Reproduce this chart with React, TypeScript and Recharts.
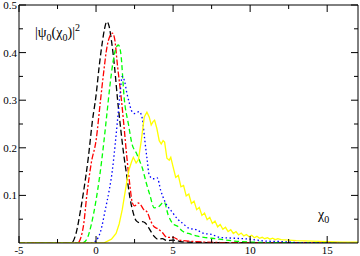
import React from "react";
import { LineChart, Line, XAxis, YAxis } from "recharts";

// x ticks (major every 5, minor every 2.5) and y ticks (major every 0.1)
const xTicks = [-5, -2.5, 0, 2.5, 5, 7.5, 10, 12.5, 15];
const yTicks = [0, 0.05, 0.1, 0.15, 0.2, 0.25, 0.3, 0.35, 0.4, 0.45, 0.5];

const blackX = [-5, -2, -1.6, -1.3, -1.0, -0.8, -0.5, -0.23, 0, 0.2, 0.4, 0.55, 0.7, 0.85, 1.0, 1.2, 1.4, 1.6, 1.8, 2.0, 2.2, 2.4, 2.6, 2.8, 3.0, 3.2, 3.4, 3.6, 3.8, 4.0, 4.3, 4.6, 5.0, 5.5, 6.0, 7.0, 17];
const blackY = [0, 0, 0, 0.02, 0.07, 0.11, 0.18, 0.258, 0.31, 0.37, 0.42, 0.45, 0.465, 0.455, 0.425, 0.37, 0.3, 0.24, 0.185, 0.14, 0.095, 0.065, 0.047, 0.043, 0.045, 0.042, 0.033, 0.022, 0.013, 0.008, 0.009, 0.005, 0.006, 0.003, 0.002, 0.001, 0];

const redX = [-5, -1.2, -1.0, -0.8, -0.6, -0.3, 0, 0.29, 0.5, 0.7, 0.9, 1.06, 1.2, 1.4, 1.65, 1.8, 2.0, 2.2, 2.35, 2.5, 2.74, 2.9, 3.1, 3.32, 3.5, 3.77, 4.0, 4.3, 4.6, 5.0, 5.4, 6.0, 7.0, 8.0, 17];
const redY = [0, 0, 0.01, 0.04, 0.1, 0.17, 0.215, 0.3, 0.36, 0.41, 0.435, 0.441, 0.43, 0.37, 0.3, 0.25, 0.18, 0.12, 0.085, 0.078, 0.084, 0.08, 0.07, 0.065, 0.05, 0.034, 0.03, 0.022, 0.012, 0.012, 0.006, 0.004, 0.002, 0.001, 0];

const greenX = [-5, -0.9, -0.6, -0.3, 0, 0.23, 0.5, 0.7, 0.9, 1.1, 1.3, 1.45, 1.6, 1.84, 2.1, 2.35, 2.6, 2.8, 3.0, 3.26, 3.5, 3.77, 4.0, 4.42, 4.68, 5.0, 5.3, 5.6, 6.0, 6.5, 7.0, 7.5, 8.0, 9.0, 10, 11, 17];
const greenY = [0, 0, 0.008, 0.04, 0.09, 0.139, 0.21, 0.27, 0.33, 0.38, 0.41, 0.416, 0.4, 0.3, 0.25, 0.206, 0.19, 0.175, 0.158, 0.126, 0.1, 0.074, 0.075, 0.086, 0.059, 0.04, 0.035, 0.025, 0.02, 0.015, 0.012, 0.01, 0.008, 0.004, 0.002, 0.001, 0];

const blueX = [-5, -0.3, 0, 0.3, 0.6, 0.85, 1.06, 1.25, 1.4, 1.55, 1.7, 1.85, 2.0, 2.16, 2.3, 2.5, 2.8, 3.0, 3.15, 3.32, 3.45, 3.7, 3.97, 4.2, 4.5, 4.94, 5.3, 5.6, 6.03, 6.5, 7.0, 7.5, 8.0, 9.0, 10, 11, 12, 13, 17];
const blueY = [0, 0, 0.005, 0.025, 0.07, 0.11, 0.153, 0.21, 0.26, 0.31, 0.35, 0.34, 0.315, 0.294, 0.278, 0.272, 0.276, 0.262, 0.22, 0.174, 0.143, 0.135, 0.137, 0.11, 0.085, 0.065, 0.05, 0.042, 0.031, 0.028, 0.02, 0.018, 0.012, 0.01, 0.008, 0.004, 0.003, 0.001, 0];

const yellowX = [-5, 0.5, 1.0, 1.3, 1.5, 1.7, 1.85, 2.0, 2.15, 2.3, 2.42, 2.6, 2.75, 2.94, 3.13, 3.3, 3.45, 3.58, 3.7, 3.8, 3.95, 4.1, 4.23, 4.35, 4.45, 4.6, 4.75, 4.85,
  5.0, 5.17, 5.34, 5.51, 5.68, 5.85, 6.02, 6.19, 6.36, 6.53, 6.7, 6.87, 7.04, 7.21, 7.38, 7.55, 7.72, 7.89, 8.06, 8.23, 8.4, 8.57, 8.74, 8.91, 9.08, 9.25, 9.42, 9.59, 9.76, 9.93,
  10.1, 10.27, 10.44, 10.61, 10.78, 10.95, 11.12, 11.29, 11.46, 11.63, 11.8, 12.0, 12.5, 13, 14, 15, 16, 17];
const yellowY = [0, 0, 0.008, 0.02, 0.04, 0.07, 0.1, 0.13, 0.155, 0.17, 0.18, 0.168, 0.175, 0.216, 0.265, 0.275, 0.265, 0.248, 0.255, 0.258, 0.24, 0.215, 0.208, 0.215, 0.212, 0.178, 0.174, 0.18,
  0.16, 0.138, 0.142, 0.118, 0.121, 0.099, 0.103, 0.083, 0.088, 0.07, 0.075, 0.058, 0.063, 0.049, 0.054, 0.041, 0.046, 0.034, 0.039, 0.029, 0.033, 0.024, 0.028, 0.02, 0.024, 0.017, 0.021, 0.015, 0.018, 0.013,
  0.016, 0.011, 0.014, 0.01, 0.012, 0.009, 0.011, 0.008, 0.01, 0.007, 0.009, 0.007, 0.006, 0.005, 0.004, 0.003, 0.002, 0.002];

const toRows = (xs: number[], ys: number[]) => xs.map((x, i) => ({ x, y: ys[i] }));

const FONT = "'Liberation Serif', 'Times New Roman', serif";
const MAJOR = 7;
const MINOR = 4;

const isMajorX = (v: number) => v % 5 === 0;
const isMajorY = (v: number) => Math.round(v * 100) % 10 === 0;

function BottomTick(props: any) {
  const { x, y, payload } = props;
  const v = payload.value;
  const major = isMajorX(v);
  return (
    <g>
      <line x1={x} y1={y} x2={x} y2={y - (major ? MAJOR : MINOR)} stroke="#000" />
      {major && (
        <text x={x} y={y + 11} textAnchor="middle" fill="#000" style={{ fontFamily: FONT, fontSize: 11 }}>
          {v}
        </text>
      )}
    </g>
  );
}

function TopTick(props: any) {
  const { x, y, payload } = props;
  const major = isMajorX(payload.value);
  return <line x1={x} y1={y} x2={x} y2={y + (major ? MAJOR : MINOR)} stroke="#000" />;
}

function LeftTick(props: any) {
  const { x, y, payload } = props;
  const v = payload.value;
  if (v === 0) return <g />;
  const major = isMajorY(v);
  return (
    <g>
      <line x1={x} y1={y} x2={x + (major ? MAJOR : MINOR)} y2={y} stroke="#000" />
      {major && (
        <text x={x - 2} y={y + 4} textAnchor="end" fill="#000" style={{ fontFamily: FONT, fontSize: 11 }}>
          {v}
        </text>
      )}
    </g>
  );
}

function RightTick(props: any) {
  const { x, y, payload } = props;
  const v = payload.value;
  if (v === 0) return <g />;
  const major = isMajorY(v);
  return <line x1={x} y1={y} x2={x - (major ? MAJOR : MINOR)} y2={y} stroke="#000" />;
}

export default function App() {
  return (
    <div style={{ position: "absolute", left: 0, top: 0, width: 360, height: 256, background: "#fff" }}>
      <LineChart width={360} height={256} margin={{ top: 0, right: 0, left: 0, bottom: 0 }}>
        <XAxis dataKey="x" type="number" domain={[-5, 17]} ticks={xTicks} allowDataOverflow
          height={13} tickSize={0} tickMargin={0} tickLine={false} axisLine={{ stroke: "#000" }} tick={<BottomTick />} interval={0} />
        <XAxis xAxisId="top" orientation="top" dataKey="x" type="number" domain={[-5, 17]} ticks={xTicks} allowDataOverflow
          height={5} tickSize={0} tickMargin={0} tickLine={false} axisLine={{ stroke: "#000" }} tick={<TopTick />} interval={0} />
        <YAxis type="number" domain={[0, 0.5]} ticks={yTicks} allowDataOverflow
          width={19} tickSize={0} tickMargin={0} tickLine={false} axisLine={{ stroke: "#000" }} tick={<LeftTick />} interval={0} />
        <YAxis yAxisId="right" orientation="right" type="number" domain={[0, 0.5]} ticks={yTicks} allowDataOverflow
          width={2} tickSize={0} tickMargin={0} tickLine={false} axisLine={{ stroke: "#000" }} tick={<RightTick />} interval={0} />
        <Line data={toRows(blackX, blackY)} dataKey="y" type="monotone" stroke="#000000" strokeWidth={1.3}
          strokeDasharray="6 3" dot={false} isAnimationActive={false} />
        <Line data={toRows(redX, redY)} dataKey="y" type="monotone" stroke="#ff0000" strokeWidth={1.3}
          strokeDasharray="6 2 2 2" dot={false} isAnimationActive={false} />
        <Line data={toRows(greenX, greenY)} dataKey="y" type="monotone" stroke="#00ff00" strokeWidth={1.3}
          strokeDasharray="5 3" dot={false} isAnimationActive={false} />
        <Line data={toRows(blueX, blueY)} dataKey="y" type="monotone" stroke="#0000ff" strokeWidth={1.3}
          strokeDasharray="1.5 2.5" dot={false} isAnimationActive={false} />
        <Line data={toRows(yellowX, yellowY)} dataKey="y" type="linear" stroke="#ffff00" strokeWidth={1.3}
          dot={false} isAnimationActive={false} />
      </LineChart>
      <div style={{ position: "absolute", left: 35, top: 25, fontFamily: FONT, fontSize: 14, lineHeight: "16px", whiteSpace: "nowrap" }}>
        |ψ<sub style={{ fontSize: 10, lineHeight: 0 }}>0</sub>(χ<sub style={{ fontSize: 10, lineHeight: 0 }}>0</sub>)|<sup style={{ fontSize: 10, lineHeight: 0 }}>2</sup>
      </div>
      <div style={{ position: "absolute", left: 318, top: 207, fontFamily: FONT, fontSize: 14, lineHeight: "16px", whiteSpace: "nowrap" }}>
        χ<sub style={{ fontSize: 10, lineHeight: 0 }}>0</sub>
      </div>
    </div>
  );
}
